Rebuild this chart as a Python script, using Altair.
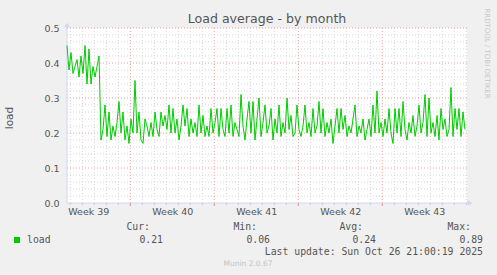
import altair as alt
import pandas as pd

# ---- data ----
# load average samples, one every 4 hours, first sample at day START_DAY
# (days counted from Mon Sep 22 2025 00:00, start of ISO week 39)
START_DAY = 1.725
STEP_DAYS = 1.0 / 6.0
high_part = [0.45, 0.38, 0.43, 0.37, 0.39, 0.41, 0.36, 0.42, 0.37, 0.45,
             0.34, 0.44, 0.34, 0.39, 0.36, 0.39, 0.42]
low_part = [
    0.18, 0.21, 0.28, 0.19, 0.26, 0.18, 0.22, 0.19, 0.23, 0.29,
    0.20, 0.26, 0.18, 0.22, 0.17, 0.24, 0.20, 0.35, 0.20, 0.26,
    0.18, 0.17, 0.24, 0.22, 0.19, 0.23, 0.19, 0.26, 0.21, 0.19,
    0.26, 0.22, 0.25, 0.21, 0.28, 0.20, 0.27, 0.20, 0.24, 0.18,
    0.22, 0.28, 0.22, 0.27, 0.19, 0.24, 0.20, 0.23, 0.19, 0.28,
    0.20, 0.25, 0.19, 0.22, 0.19, 0.27, 0.20, 0.23, 0.27, 0.19,
    0.27, 0.21, 0.19, 0.27, 0.20, 0.28, 0.19, 0.23, 0.21, 0.19,
    0.31, 0.22, 0.18, 0.24, 0.29, 0.20, 0.29, 0.18, 0.24, 0.30,
    0.19, 0.23, 0.28, 0.20, 0.22, 0.27, 0.18, 0.24, 0.20, 0.28,
    0.19, 0.23, 0.20, 0.30, 0.21, 0.25, 0.19, 0.20, 0.28, 0.21,
    0.19, 0.22, 0.28, 0.20, 0.23, 0.19, 0.27, 0.20, 0.22, 0.29,
    0.20, 0.27, 0.19, 0.23, 0.20, 0.24, 0.17, 0.22, 0.27, 0.20,
    0.27, 0.21, 0.25, 0.19, 0.22, 0.20, 0.24, 0.28, 0.19, 0.22,
    0.20, 0.24, 0.18, 0.21, 0.24, 0.19, 0.28, 0.20, 0.32, 0.20,
    0.23, 0.19, 0.24, 0.20, 0.27, 0.20, 0.17, 0.27, 0.20, 0.27,
    0.19, 0.29, 0.21, 0.18, 0.23, 0.20, 0.25, 0.19, 0.22, 0.28,
    0.20, 0.23, 0.31, 0.19, 0.30, 0.20, 0.23, 0.19, 0.25, 0.18,
    0.27, 0.21, 0.24, 0.19, 0.21, 0.33, 0.19, 0.27, 0.21, 0.27,
    0.19, 0.26, 0.21,
]
load_values = high_part + low_part

X_DOMAIN = [1.725, 35.058]
Y_DOMAIN = [0.0, 0.5]
week_centers = [3.5, 10.5, 17.5, 24.5, 31.5]
first_week = 39
y_ticks = [0.0, 0.1, 0.2, 0.3, 0.4, 0.5]

title_text = "Load average - by month"
y_title = "load"
series_name = "load"
stat_names = ["Cur:", "Min:", "Avg:", "Max:"]
stat_values = ["0.21", "0.06", "0.24", "0.89"]
last_update = "Last update: Sun Oct 26 21:00:19 2025"
footer = "Munin 2.0.67"
side_text = "RRDTOOL / TOBI OETIKER"

# ---- styles ----
GREEN = "#00CC00"
FONT_COLOR = "#555555"
AXIS_COLOR = "#CFD6F8"
MINOR = "#d4d4d4"
MAJOR = "#f2a0a0"
SANS = "DejaVu Sans"
MONO = "DejaVu Sans Mono"

df = pd.DataFrame({
    "day": [START_DAY + i * STEP_DAYS for i in range(len(load_values))],
    "load": load_values,
})

xs = alt.Scale(domain=X_DOMAIN, nice=False, zero=False)
ys = alt.Scale(domain=Y_DOMAIN, nice=False)

X_AXIS = alt.Axis(
    values=week_centers, labelExpr=f"'Week ' + ({first_week} + floor(datum.value / 7))",
    title=None, grid=False, domain=False, ticks=False, labelPadding=3,
    labelFont=SANS, labelFontSize=9.5, labelColor=FONT_COLOR,
    labelOverlap=False, labelFlush=False, labelBound=False)
Y_AXIS = alt.Axis(
    values=y_ticks, format=".1f", title=None, grid=False, domain=False, ticks=False,
    labelPadding=8, labelFont=SANS, labelFontSize=9.5, labelColor=FONT_COLOR,
    labelFlush=False, labelBound=False)

week_days = [7, 14, 21, 28]
minor_days = [d for d in range(2, 36) if d not in week_days]
minor_y = [round(i * 0.02, 2) for i in range(1, 25) if i % 5 != 0]
major_y = [0.1, 0.2, 0.3, 0.4, 0.5]

def vrules(vals, color):
    return alt.Chart(pd.DataFrame({"day": vals})).mark_rule(
        color=color, strokeDash=[1, 2], strokeWidth=1
    ).encode(x=alt.X("day:Q", scale=xs, axis=X_AXIS), y=alt.value(0), y2=alt.value(175))

def hrules(vals, color):
    return alt.Chart(pd.DataFrame({"load": vals})).mark_rule(
        color=color, strokeDash=[1, 2], strokeWidth=1
    ).encode(y=alt.Y("load:Q", scale=ys, axis=Y_AXIS), x=alt.value(0), x2=alt.value(400))

def xticks(vals, color, size):
    return alt.Chart(pd.DataFrame({"day": vals})).mark_rule(color=color, strokeWidth=1).encode(
        x=alt.X("day:Q", scale=xs, axis=X_AXIS), y=alt.value(175), y2=alt.value(175 + size))

def text(t, x, y, font=SANS, size=9.8, align="left", baseline="middle", color=FONT_COLOR, angle=0):
    return alt.Chart(pd.DataFrame({"t": [t]})).mark_text(
        font=font, fontSize=size, align=align, baseline=baseline, color=color, angle=angle
    ).encode(text="t:N", x=alt.value(x), y=alt.value(y))

grid = [
    vrules(minor_days, MINOR),
    hrules(minor_y, MINOR),
    vrules(week_days, MAJOR),
    hrules(major_y, MAJOR),
    xticks(minor_days, "#c8c8c8", 2),
    xticks(week_days, "#f08080", 3),
]

line = alt.Chart(df).mark_line(color=GREEN, strokeWidth=1, interpolate="linear").encode(
    x=alt.X("day:Q", scale=xs, axis=X_AXIS),
    y=alt.Y("load:Q", scale=ys, axis=Y_AXIS),
)

axis_lines = [
    alt.Chart(pd.DataFrame({"a": [0]})).mark_rule(color=AXIS_COLOR, strokeWidth=1).encode(
        x=alt.value(0), x2=alt.value(403), y=alt.value(175)),
    alt.Chart(pd.DataFrame({"a": [0]})).mark_rule(color=AXIS_COLOR, strokeWidth=1).encode(
        x=alt.value(0), y=alt.value(-3), y2=alt.value(175)),
    alt.Chart(pd.DataFrame({"a": [0]})).mark_point(
        shape="triangle-up", filled=True, color=AXIS_COLOR, size=30, opacity=1).encode(
        x=alt.value(0), y=alt.value(-3)),
    alt.Chart(pd.DataFrame({"a": [0]})).mark_point(
        shape="triangle-right", filled=True, color=AXIS_COLOR, size=30, opacity=1).encode(
        x=alt.value(403), y=alt.value(175)),
]

legend_marks = [
    alt.Chart(pd.DataFrame({"a": [0]})).mark_square(color=GREEN, size=36, opacity=1).encode(
        x=alt.value(-50), y=alt.value(212)),
    text(series_name, -40, 212, font=MONO),
]
hdr_x = [83, 190, 296, 404]
val_x = [96, 203, 309, 416]
for name, hx in zip(stat_names, hdr_x):
    legend_marks.append(text(name, hx, 199, font=MONO, align="right"))
for v, vx in zip(stat_values, val_x):
    legend_marks.append(text(v, vx, 212, font=MONO, align="right"))
legend_marks.append(text(last_update, 416, 224, font=MONO, align="right"))
legend_marks.append(text(footer, 181, 235.5, size=7.5, align="center", color="#c4c4c4"))

labels = [
    text(title_text, 200, -5, size=12.6, align="center", baseline="alphabetic"),
    text(y_title, -57, 90, size=10.5, align="center", angle=270),
    text(side_text, 420, 25.5, size=7, align="center", color="#c8c8c8", angle=90),
]

chart = alt.layer(*grid, *axis_lines, line, *legend_marks, *labels).properties(
    width=400, height=175, background="#F0F0F0",
    padding={"left": 67, "top": 28, "right": 30, "bottom": 72},
    autosize=alt.AutoSizeParams(type="none"),
).configure_view(fill="white", stroke=None)

chart.save("out.html", embed_options={"renderer": "svg", "actions": False})
